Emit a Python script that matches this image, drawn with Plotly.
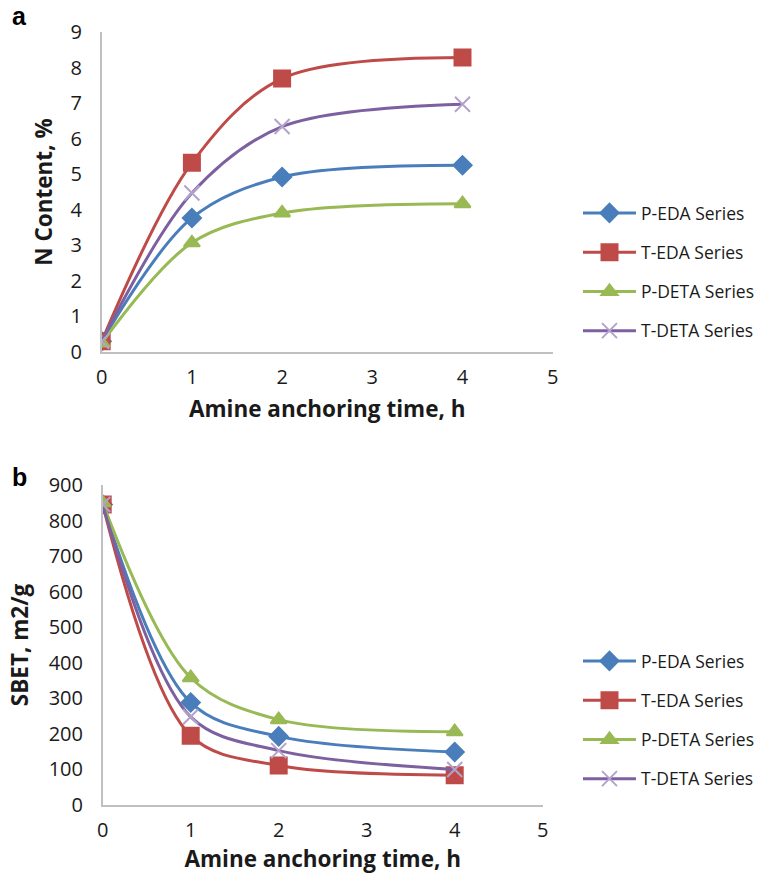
import plotly.graph_objects as go

# Amine anchoring time (h)
hours = [0, 1, 2, 4]

series_names = ["P-EDA Series", "T-EDA Series", "P-DETA Series", "T-DETA Series"]

# Panel a: nitrogen content, %
n_p_eda = [0.30, 3.77, 4.92, 5.25]
n_t_eda = [0.30, 5.32, 7.69, 8.28]
n_p_deta = [0.25, 3.07, 3.91, 4.17]
n_t_deta = [0.30, 4.47, 6.34, 6.97]

# Panel b: BET surface area, m2/g
s_p_eda = [845, 288, 193, 149]
s_t_eda = [845, 195, 111, 84]
s_p_deta = [850, 358, 240, 206]
s_t_deta = [845, 248, 153, 100]

line_colors = ["#4a7ebb", "#be4b48", "#98b954", "#7d60a0"]
marker_colors = ["#4a7ebb", "#be4b48", "#98b954", "#b3a2cc"]
marker_symbols = ["diamond", "square", "triangle-up", "x-thin-open"]
marker_sizes = [14, 16, 14, 15]

FONT = "Open Sans"
W, H = 775, 874

fig = go.Figure()


def add_panel(values, xaxis, yaxis, legend, tag):
    for i, (name, ys) in enumerate(zip(series_names, values)):
        fig.add_trace(go.Scatter(
            x=hours, y=ys, name=name,
            mode="lines+markers",
            line=dict(color=line_colors[i], width=3, shape="spline", smoothing=0.95),
            marker=dict(symbol=marker_symbols[i], size=marker_sizes[i],
                        color=marker_colors[i],
                        line=dict(color=marker_colors[i], width=2)),
            xaxis=xaxis, yaxis=yaxis, legend=legend,
            legendgroup=f"{tag}{i}",
        ))


add_panel([n_p_eda, n_t_eda, n_p_deta, n_t_deta], "x", "y", "legend", "a")
add_panel([s_p_eda, s_t_eda, s_p_deta, s_t_deta], "x2", "y2", "legend2", "b")

axis_common = dict(
    showgrid=False, zeroline=False, showline=True,
    linecolor="#c0c0c0", linewidth=1.5, ticks="",
    tickfont=dict(family=FONT, size=20, color="#1a1a1a"),
)
title_font = dict(family=FONT, size=22.5, color="#1a1a1a", weight="bold")

legend_common = dict(
    font=dict(family=FONT, size=17.5, color="#1a1a1a"),
    bgcolor="rgba(0,0,0,0)", tracegroupgap=13.5,
    xanchor="left", yanchor="middle", itemwidth=53,
)

fig.update_layout(
    width=W, height=H,
    margin=dict(l=0, r=0, t=0, b=0, autoexpand=False),
    paper_bgcolor="white", plot_bgcolor="white",
    xaxis=dict(axis_common, domain=[101.7 / W, 552.7 / W], range=[0, 5], dtick=1,
               anchor="y", ticklabelstandoff=6,
               title=dict(text="Amine anchoring time, h", font=title_font, standoff=12)),
    yaxis=dict(axis_common, domain=[1 - 352 / H, 1 - 32 / H], range=[0, 9], dtick=1,
               anchor="x", ticklabelstandoff=14,
               title=dict(text="N Content, %", font=title_font, standoff=12)),
    xaxis2=dict(axis_common, domain=[102.7 / W, 542.7 / W], range=[0, 5], dtick=1,
                anchor="y2", ticklabelstandoff=6,
                title=dict(text="Amine anchoring time, h", font=title_font, standoff=14)),
    yaxis2=dict(axis_common, domain=[1 - 805 / H, 1 - 485 / H], range=[0, 900], dtick=100,
                anchor="x2", ticklabelstandoff=14,
                title=dict(text="SBET, m2/g", font=title_font, standoff=14)),
    legend=dict(legend_common, x=578 / W, y=1 - 272 / H),
    legend2=dict(legend_common, x=578 / W, y=1 - 720 / H),
    annotations=[
        dict(text="<b>a</b>", x=19 / W, y=1 - 16 / H, xref="paper", yref="paper",
             xanchor="center", yanchor="middle", showarrow=False,
             font=dict(family="Liberation Sans", size=25, color="black")),
        dict(text="<b>b</b>", x=19 / W, y=1 - 477 / H, xref="paper", yref="paper",
             xanchor="center", yanchor="middle", showarrow=False,
             font=dict(family="Liberation Sans", size=25, color="black")),
    ],
)

fig.write_html("out.html")
